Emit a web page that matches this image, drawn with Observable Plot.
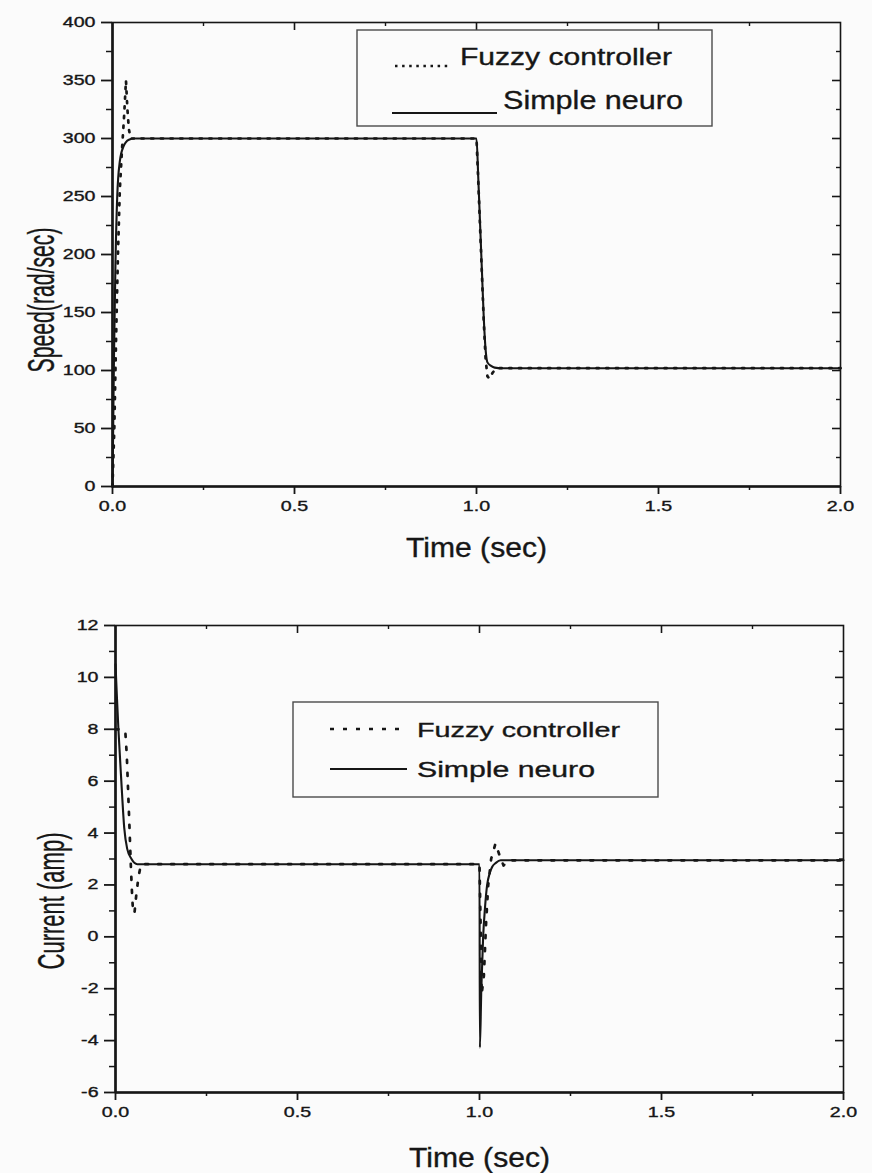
<!DOCTYPE html>
<html>
<head>
<meta charset="utf-8">
<script src="https://cdn.jsdelivr.net/npm/d3@7"></script>
<script src="https://cdn.jsdelivr.net/npm/@observablehq/plot@0.6"></script>
<style>
  html, body { margin: 0; padding: 0; background: #fbfbfb; }
  #chart { width: 872px; height: 1173px; position: relative; background: #fbfbfb; }
  #chart svg { display: block; }
  #chart svg text { stroke: #161616; stroke-width: 0.35px; }
</style>
</head>
<body>
<div id="chart"></div>
<script>
// ---------- tick values ----------
const xTicks = [0, 0.5, 1.0, 1.5, 2.0];
const xMinorTicks = [0.25, 0.75, 1.25, 1.75];
const speedTicks = [0, 50, 100, 150, 200, 250, 300, 350, 400];
const speedMinorTicks = [25, 75, 125, 175, 225, 275, 325, 375];
const currentTicks = [-6, -4, -2, 0, 2, 4, 6, 8, 10, 12];
const currentMinorTicks = [-5, -3, -1, 1, 3, 5, 7, 9, 11];

// ---------- series names ----------
const seriesFuzzy = "Fuzzy controller";
const seriesNeuro = "Simple neuro";

// ---------- speed (rad/sec) ----------
const speedTimeNeuro = [0, 0.004, 0.008, 0.013, 0.02, 0.03, 0.045, 0.06, 1.0, 1.005, 1.01, 1.015, 1.02, 1.025, 1.03, 1.04, 1.05, 1.07, 2.0];
const speedNeuro     = [0, 110, 190, 250, 280, 293, 299, 300, 300, 265, 225, 185, 145, 118, 107, 104, 102.5, 102, 102];

const speedTimeFuzzy = [0, 0.005, 0.01, 0.015, 0.02, 0.026, 0.032, 0.037, 0.041, 0.045, 0.05, 0.06, 1.0, 1.005, 1.01, 1.015, 1.02, 1.025, 1.03, 1.036, 1.044, 1.052, 1.06, 2.0];
const speedFuzzy     = [0, 50, 130, 200, 255, 290, 320, 350, 325, 308, 300, 300, 300, 262, 222, 182, 142, 110, 95, 93, 98, 101, 102, 102];

// ---------- current (amp) ----------
const currentTimeNeuro = [0, 0.004, 0.008, 0.016, 0.024, 0.032, 0.044, 0.06, 1.0, 1.001, 1.005, 1.01, 1.015, 1.021, 1.028, 1.035, 1.045, 1.058, 2.0];
const currentNeuro     = [10.5, 9.2, 8.0, 6.0, 4.2, 3.4, 3.0, 2.8, 2.8, -4.27, -2.0, 0, 1.1, 2.0, 2.45, 2.7, 2.85, 2.95, 2.95];

const currentTimeFuzzy = [0, 0.01, 0.02, 0.027, 0.031, 0.035, 0.039, 0.042, 0.045, 0.048, 0.052, 0.057, 0.063, 0.07, 1.0, 1.003, 1.006, 1.012, 1.018, 1.024, 1.032, 1.044, 1.056, 1.066, 1.08, 2.0];
const currentFuzzy     = [8, 8, 8, 7.9, 7.0, 5.5, 4.0, 2.8, 1.8, 1.0, 0.9, 1.6, 2.3, 2.8, 2.8, 0.5, -2.2, -1.5, 0.5, 2.0, 3.0, 3.6, 3.1, 2.75, 2.95, 2.95];

const rows = (ts, vs) => ts.map((t, i) => ({t, v: vs[i]}));

const INK = "#161616";
const BG = "#fbfbfb";
const FONT = "'Liberation Sans', Arial, Helvetica, sans-serif";
const fmtX = d3.format(".1f");

function panel(o) {
  const fw = 872 - o.ml - o.mr;
  const fh = o.h - o.mt - o.mb;
  return Plot.plot({
    width: 872, height: o.h,
    marginTop: o.mt, marginBottom: o.mb, marginLeft: o.ml, marginRight: o.mr,
    x: {domain: [0, 2], axis: null, label: null},
    y: {domain: o.yDomain, axis: null, label: null},
    style: {fontFamily: FONT, fontSize: "14px", color: INK, background: "transparent"},
    marks: [
      Plot.frame({stroke: INK, strokeWidth: 1.6}),
      // inward ticks on top edge
      Plot.ruleX(xMinorTicks, {stroke: INK, strokeWidth: 1.4, insetBottom: fh - 4}),
      Plot.ruleX(xTicks.slice(1, -1), {stroke: INK, strokeWidth: 1.6, insetBottom: fh - 8}),
      // inward ticks on right edge
      Plot.ruleY(o.yMinor, {stroke: INK, strokeWidth: 1.4, insetLeft: fw - 4}),
      Plot.ruleY(o.yMajor.slice(1, -1), {stroke: INK, strokeWidth: 1.6, insetLeft: fw - 8}),
      // bottom axis
      Plot.axisX(xTicks, {tickSize: 8, tickPadding: 7, tickFormat: fmtX, fontSize: 14, stroke: INK, strokeWidth: 1.8, label: null}),
      Plot.axisX(xMinorTicks, {tickSize: 4, tickFormat: () => "", stroke: INK, strokeWidth: 1.5, label: null}),
      // left axis
      Plot.axisY(o.yMajor, {tickSize: 11, tickPadding: 6, tickFormat: d => String(d), fontSize: 14, stroke: INK, strokeWidth: 1.8, label: null}),
      Plot.axisY(o.yMinor, {tickSize: 6, tickFormat: () => "", stroke: INK, strokeWidth: 1.5, label: null}),
      // heavier left / bottom axis lines
      Plot.ruleX([0], {stroke: INK, strokeWidth: 2.6}),
      Plot.ruleY([o.yDomain[0]], {stroke: INK, strokeWidth: 2.6}),
      // data
      Plot.line(o.neuro, {x: "t", y: "v", stroke: INK, strokeWidth: 2.1, curve: "monotone-x"}),
      Plot.line(o.fuzzy, {x: "t", y: "v", stroke: INK, strokeWidth: 2.7, strokeDasharray: o.dash, curve: "linear"}),
      // x axis title
      Plot.text(["Time (sec)"], {frameAnchor: "bottom", dy: o.xTitleDy, fontSize: 27, fill: INK, lineAnchor: "middle"})
    ]
  });
}

function fixText(svg) {
  svg.querySelectorAll("text").forEach(t => {
    const s = t.textContent.trim();
    if (/^-?\d+(\.\d+)?$/.test(s)) {
      t.style.fontSize = "14px";
      const w = t.getComputedTextLength();
      if (w > 0) { t.setAttribute("textLength", (w * 1.4).toFixed(1)); t.setAttribute("lengthAdjust", "spacingAndGlyphs"); }
    }
    if (s === "Time (sec)") {
      t.style.fontSize = "27px";
      t.setAttribute("textLength", 141); t.setAttribute("lengthAdjust", "spacingAndGlyphs");
    }
  });
}

function yTitle(svg, label, cx, cy, len) {
  d3.select(svg).append("text")
    .attr("transform", `translate(${cx},${cy}) rotate(-90)`)
    .attr("text-anchor", "middle")
    .attr("dominant-baseline", "central")
    .attr("font-family", FONT)
    .attr("font-size", 36)
    .attr("fill", INK)
    .attr("textLength", len)
    .attr("lengthAdjust", "spacingAndGlyphs")
    .text(label);
}

function legend(svg, L) {
  const g = d3.select(svg).append("g").attr("font-family", FONT).attr("fill", INK).attr("text-anchor", "start");
  g.append("rect").attr("x", L.x).attr("y", L.y).attr("width", L.w).attr("height", L.h)
    .attr("fill", BG).attr("stroke", "#4a4a4a").attr("stroke-width", 1.4);
  g.append("line").attr("x1", L.s1x1).attr("x2", L.s1x2).attr("y1", L.s1y).attr("y2", L.s1y)
    .attr("stroke", INK).attr("stroke-width", 2.6).attr("stroke-dasharray", L.dash);
  g.append("text").attr("x", L.tx).attr("y", L.t1y).attr("font-size", L.f1).attr("text-anchor", "start")
    .attr("textLength", L.t1w).attr("lengthAdjust", "spacingAndGlyphs").text(seriesFuzzy);
  g.append("line").attr("x1", L.s2x1).attr("x2", L.s2x2).attr("y1", L.s2y).attr("y2", L.s2y)
    .attr("stroke", INK).attr("stroke-width", 2);
  g.append("text").attr("x", L.tx2).attr("y", L.t2y).attr("font-size", L.f2).attr("text-anchor", "start")
    .attr("textLength", L.t2w).attr("lengthAdjust", "spacingAndGlyphs").text(seriesNeuro);
}

const chart = document.getElementById("chart");

const topSvg = panel({
  h: 590, mt: 22, mb: 104, ml: 112, mr: 32,
  yDomain: [0, 400], yMajor: speedTicks, yMinor: speedMinorTicks,
  neuro: rows(speedTimeNeuro, speedNeuro), fuzzy: rows(speedTimeFuzzy, speedFuzzy),
  dash: "2.2,7.5", xTitleDy: 62
});
chart.appendChild(topSvg);
fixText(topSvg);
yTitle(topSvg, "Speed(rad/sec)", 41, 300, 145);
legend(topSvg, {
  x: 357, y: 30, w: 355, h: 96,
  s1x1: 395, s1x2: 451, s1y: 66, dash: "2.5,4.6",
  tx: 460, t1y: 65, f1: 24, t1w: 212,
  s2x1: 392, s2x2: 497, s2y: 113,
  tx2: 503, t2y: 109, f2: 26, t2w: 180
});

const botSvg = panel({
  h: 583, mt: 35, mb: 81, ml: 115, mr: 29,
  yDomain: [-6, 12], yMajor: currentTicks, yMinor: currentMinorTicks,
  neuro: rows(currentTimeNeuro, currentNeuro), fuzzy: rows(currentTimeFuzzy, currentFuzzy),
  dash: "3,10", xTitleDy: 66
});
chart.appendChild(botSvg);
fixText(botSvg);
yTitle(botSvg, "Current (amp)", 51, 311, 137);
legend(botSvg, {
  x: 293, y: 112, w: 365, h: 95,
  s1x1: 330, s1x2: 407, s1y: 139, dash: "4,9",
  tx: 417, t1y: 147, f1: 21, t1w: 203,
  s2x1: 330, s2x2: 407, s2y: 179,
  tx2: 417, t2y: 187, f2: 22, t2w: 178
});
</script>
</body>
</html>
